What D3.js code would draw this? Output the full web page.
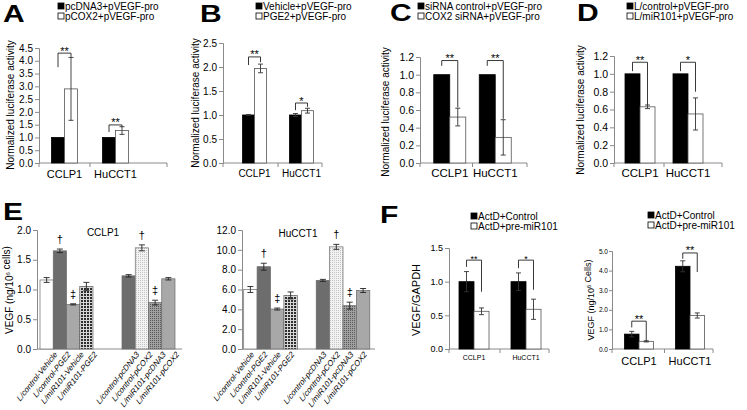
<!DOCTYPE html>
<html>
<head>
<meta charset="utf-8">
<script src="https://cdn.jsdelivr.net/npm/d3@7"></script>
<style>
  body { margin: 0; background: #fff; }
  svg { display: block; font-family: "Liberation Sans", Arial, sans-serif; }
</style>
</head>
<body>
<div id="container"></div>
<script>
// ---- data ----
let groups = ["CCLP1", "HuCCT1"];

let aLegend = ["pcDNA3+pVEGF-pro", "pCOX2+pVEGF-pro"];
let aValues = [[1.0, 2.9], [1.0, 1.27]];
let aErrors = [[0, 1.23], [0, 0.15]];
let aSig = [["**", 3.75, 4.3, 4.15], ["**", 1.21, 1.49, 1.41]];

let bLegend = ["Vehicle+pVEGF-pro", "PGE2+pVEGF-pro"];
let bValues = [[1.0, 1.97], [1.0, 1.09]];
let bErrors = [[0.01, 0.09], [0.03, 0.05]];
let bSig = [["**", 2.04, 2.21, 2.1], ["*", 1.1, 1.25, 1.17]];

let cLegend = ["siRNA control+pVEGF-pro", "COX2 siRNA+pVEGF-pro"];
let cValues = [[1.0, 0.52], [1.0, 0.29]];
let cErrors = [[0, 0.10], [0, 0.20]];
let cSig = [["**", 1.1, 1.16, 0.63], ["**", 1.1, 1.16, 0.5]];

let dLegend = ["L/control+pVEGF-pro", "L/miR101+pVEGF-pro"];
let dValues = [[1.0, 0.63], [1.0, 0.55]];
let dErrors = [[0, 0.02], [0, 0.18]];
let dSig = [["**", 1.03, 1.13, 0.65], ["*", 1.03, 1.13, 0.8]];

let eLabels = ["L/control-Vehicle", "L/control-PGE2", "L/miR101-Vehicle", "L/miR101-PGE2",
               "L/control-pcDNA3", "L/control-pCOX2", "L/miR101-pcDNA3", "L/miR101-pCOX2"];
let eFills = ["white", "dark", "mid", "check", "dark", "dots", "hatch", "mid"];
let eCclp1Values = [1.16, 1.65, 0.75, 1.05, 1.23, 1.70, 0.78, 1.18];
let eCclp1Errors = [0.04, 0.03, 0.01, 0.07, 0.02, 0.05, 0.04, 0.02];
let eHucct1Values = [6.0, 8.3, 4.03, 5.4, 6.92, 10.3, 4.37, 5.9];
let eHucct1Errors = [0.3, 0.35, 0.1, 0.35, 0.1, 0.25, 0.35, 0.2];
let eMarks = ["", "†", "‡", "", "", "†", "‡", ""];

let fLegend = ["ActD+Control", "ActD+pre-miR101"];
let fRatioValues = [[1.0, 0.56], [1.0, 0.59]];
let fRatioErrors = [[0.15, 0.05], [0.13, 0.15]];
let fRatioSig = [["**", 1.22, 1.32, 0.85], ["*", 1.2, 1.32, 0.88]];
let fConcValues = [[0.76, 0.39], [4.22, 1.71]];
let fConcErrors = [[0.14, 0.03], [0.28, 0.13]];
let fConcSig = [["**", 1.1, 1.42, 0.42], ["**", 4.6, 4.9, 3.93]];

// ---- drawing ----
let w = 747;
let h = 410;
let axisGray = "#8a8a8a";
let viz = d3.select("#container")
  .append("svg")
    .attr("width", w)
    .attr("height", h);

let defs = viz.append("defs");
let pCheck = defs.append("pattern").attr("id", "check").attr("patternUnits", "userSpaceOnUse")
  .attr("width", 3).attr("height", 3);
pCheck.append("rect").attr("width", 3).attr("height", 3).attr("fill", "#d8d8d8");
pCheck.append("rect").attr("width", 2).attr("height", 2).attr("fill", "#2e2e2e");
let pDots = defs.append("pattern").attr("id", "dots").attr("patternUnits", "userSpaceOnUse")
  .attr("width", 2).attr("height", 2);
pDots.append("rect").attr("width", 2).attr("height", 2).attr("fill", "#f2f2f2");
pDots.append("rect").attr("width", 1).attr("height", 1).attr("fill", "#c4c4c4");
let pHatch = defs.append("pattern").attr("id", "hatch").attr("patternUnits", "userSpaceOnUse")
  .attr("width", 2).attr("height", 2);
pHatch.append("rect").attr("width", 2).attr("height", 2).attr("fill", "#a0a0a0");
pHatch.append("rect").attr("width", 1).attr("height", 1).attr("fill", "#5a5a5a");

let fillColor = {
  white: "#ffffff", dark: "#6d6d6d", mid: "#a8a8a8",
  check: "url(#check)", dots: "url(#dots)", hatch: "url(#hatch)"
};

function styleAxis(sel, fontSize) {
  sel.select(".domain").attr("stroke", axisGray);
  sel.selectAll(".tick line").attr("stroke", axisGray);
  sel.selectAll(".tick text").attr("fill", "#000").style("font-size", fontSize + "px")
    .style("font-family", "'Liberation Sans', Arial, sans-serif");
}

function yTitle(x, y, size, parts) {
  let t = viz.append("text")
    .attr("transform", "translate(" + x + "," + y + ") rotate(-90)")
    .attr("text-anchor", "middle")
    .style("font-size", size + "px");
  parts.forEach(function(p) {
    if (p.sup) {
      t.append("tspan").attr("dy", -size * 0.3).style("font-size", (size * 0.6) + "px").text(p.text);
      t.append("tspan").attr("dy", size * 0.3).text("");
    } else {
      t.append("tspan").text(p.text);
    }
  });
}

function panelLetter(letter, x, y) {
  viz.append("text").attr("transform", "translate(" + x + "," + y + ") scale(1.25,1)").text(letter)
    .style("font-size", "24px").style("font-weight", "bold");
}

function legend(x, y, labels, size) {
  labels.forEach(function(l, i) {
    viz.append("rect").attr("x", x).attr("y", y + i * 10).attr("width", 6).attr("height", 6)
      .attr("fill", i == 0 ? "#000" : "#fff").attr("stroke", "#000").attr("stroke-width", 0.8);
    viz.append("text").attr("x", x + 7).attr("y", y + 6.5 + i * 10).text(l)
      .style("font-size", size + "px");
  });
}

function drawPairs(o) {
  let g = viz.append("g");
  let y = d3.scaleLinear().domain([0, o.yMax]).range([o.yBottom, o.yTop]);
  let x = d3.scaleBand().domain(groups).range(o.band);
  let sub = d3.scaleBand().domain([0, 1]).range([-o.barW, o.barW]);

  let yAxis = d3.axisLeft(y)
    .tickValues(d3.range(0, o.yMax + 1e-9, o.yStep))
    .tickFormat(d3.format(".1f"))
    .tickSize(o.tickLen || 4).tickPadding(o.tickPad == null ? 2 : o.tickPad);
  let ya = g.append("g").attr("transform", "translate(" + o.axisX + ",0)").call(yAxis);
  styleAxis(ya, o.tickFont);

  g.append("line").attr("x1", o.axisX).attr("x2", o.axisEnd)
    .attr("y1", o.yBottom).attr("y2", o.yBottom).attr("stroke", axisGray);
  let mids = [o.axisX, (x("CCLP1") + x("HuCCT1") + x.bandwidth()) / 2, o.axisEnd];
  g.selectAll(".xt").data(mids).enter().append("line")
    .attr("x1", d => d).attr("x2", d => d)
    .attr("y1", o.yBottom).attr("y2", o.yBottom + 4).attr("stroke", axisGray);

  g.selectAll(".cat").data(groups).enter().append("text")
    .attr("x", d => x(d) + x.bandwidth() / 2)
    .attr("y", o.catY)
    .attr("text-anchor", "middle")
    .style("font-size", o.catFont + "px")
    .text(d => d);

  let bars = [];
  groups.forEach(function(gr, gi) {
    [0, 1].forEach(function(si) {
      bars.push({ g: gr, s: si, v: o.values[gi][si], e: o.errors[gi][si] });
    });
  });
  let cx = d => x(d.g) + x.bandwidth() / 2 + sub(d.s) + o.barW / 2;

  g.selectAll(".bar").data(bars).enter().append("rect")
    .attr("x", d => x(d.g) + x.bandwidth() / 2 + sub(d.s))
    .attr("y", d => y(d.v))
    .attr("width", o.barW)
    .attr("height", d => o.yBottom - y(d.v))
    .attr("fill", d => d.s == 0 ? "#000" : "#fff")
    .attr("stroke", d => d.s == 0 ? "#000" : "#555")
    .attr("stroke-width", 0.8);

  let eb = bars.filter(d => d.e > 0);
  g.selectAll(".err").data(eb).enter().append("path")
    .attr("d", function(d) {
      let c = cx(d), t = y(d.v + d.e), b = y(d.v - d.e);
      return "M" + c + "," + t + "V" + b + "M" + (c - 2.5) + "," + t + "H" + (c + 2.5) +
             "M" + (c - 2.5) + "," + b + "H" + (c + 2.5);
    })
    .attr("fill", "none").attr("stroke", "#333").attr("stroke-width", 0.9);

  o.sig.forEach(function(s, gi) {
    let l = x(groups[gi]) + x.bandwidth() / 2 + sub(0) + o.barW / 2;
    let r = x(groups[gi]) + x.bandwidth() / 2 + sub(1) + o.barW / 2;
    g.append("path")
      .attr("d", "M" + l + "," + y(s[1]) + "V" + y(s[2]) + "H" + r + "V" + y(s[3]))
      .attr("fill", "none").attr("stroke", "#222").attr("stroke-width", 0.9);
    g.append("text").attr("x", (l + r) / 2).attr("y", y(s[2]) + 1.5)
      .attr("text-anchor", "middle").style("font-size", o.sigFont + "px").text(s[0]);
  });
}

function drawE(o) {
  let g = viz.append("g");
  let y = d3.scaleLinear().domain([0, o.yMax]).range([o.yBottom, o.yTop]);
  let sets = d3.scaleBand().domain([0, 1]).range(o.band);
  let inner = d3.scaleBand().domain([0, 1, 2, 3]).range([-2 * o.barW, 2 * o.barW]);
  let bx = i => sets(Math.floor(i / 4)) + sets.bandwidth() / 2 + inner(i % 4);

  let yAxis = d3.axisLeft(y)
    .tickValues(d3.range(0, o.yMax + 1e-9, o.yStep))
    .tickFormat(d3.format(".1f"))
    .tickSize(4).tickPadding(2);
  let ya = g.append("g").attr("transform", "translate(" + o.axisX + ",0)").call(yAxis);
  styleAxis(ya, 10);

  g.append("line").attr("x1", o.axisX).attr("x2", o.axisEnd)
    .attr("y1", o.yBottom).attr("y2", o.yBottom).attr("stroke", axisGray);

  g.append("text").attr("x", o.titleX).attr("y", o.titleY).attr("text-anchor", "middle")
    .style("font-size", "10px").text(o.title);

  let bars = o.values.map((v, i) => ({ i: i, v: v, e: o.errors[i] }));
  g.selectAll(".bar").data(bars).enter().append("rect")
    .attr("x", d => bx(d.i))
    .attr("y", d => y(d.v))
    .attr("width", o.barW)
    .attr("height", d => o.yBottom - y(d.v))
    .attr("fill", d => fillColor[eFills[d.i]])
    .attr("stroke", "#6a6a6a").attr("stroke-width", 0.7);

  g.selectAll(".err").data(bars).enter().append("path")
    .attr("d", function(d) {
      let c = bx(d.i) + o.barW / 2, t = y(d.v + d.e), b = y(d.v - d.e);
      return "M" + c + "," + t + "V" + b + "M" + (c - 3) + "," + t + "H" + (c + 3) +
             "M" + (c - 3) + "," + b + "H" + (c + 3);
    })
    .attr("fill", "none").attr("stroke", "#222").attr("stroke-width", 0.9);

  g.selectAll(".mark").data(bars.filter(d => eMarks[d.i] != "")).enter().append("text")
    .attr("x", d => bx(d.i) + o.barW / 2)
    .attr("y", d => y(d.v + d.e) - 6)
    .attr("text-anchor", "middle")
    .attr("fill", "#000")
    .style("font-size", "11px")
    .text(d => eMarks[d.i]);

  // slanted labels: rotated text squeezed sideways, as in the figure
  g.selectAll(".lab").data(eLabels).enter().append("text")
    .attr("transform", (d, i) => "translate(" + (bx(i) + o.barW / 2 + o.labelDx) + "," + (o.yBottom + 6) + ") scale(0.8,1) rotate(-45)")
    .attr("text-anchor", "end")
    .style("font-size", "9px")
    .text(d => d);
}

// ---- panels ----
panelLetter("A", 3, 22);
legend(58, 3, aLegend, 10);
yTitle(14, 105, 10, [{ text: "Normalized  luciferase  activity" }]);
drawPairs({ values: aValues, errors: aErrors, sig: aSig, yMax: 4.5, yStep: 0.5,
  yBottom: 163, yTop: 48, axisX: 39, axisEnd: 167, band: [39, 141], barW: 13,
  tickFont: 10, catFont: 11, catY: 178, sigFont: 11 });

panelLetter("B", 200, 22);
legend(256, 3, bLegend, 10);
yTitle(199, 103, 10, [{ text: "Normalized  luciferase  activity" }]);
drawPairs({ values: bValues, errors: bErrors, sig: bSig, yMax: 2.5, yStep: 0.5,
  yBottom: 163, yTop: 43, axisX: 223, axisEnd: 322, band: [231, 325], barW: 12,
  tickFont: 10, catFont: 10, catY: 177, sigFont: 11 });

panelLetter("C", 390, 21);
legend(418, 3, cLegend, 10);
yTitle(389, 112, 10, [{ text: "Normalized  luciferase  activity" }]);
drawPairs({ values: cValues, errors: cErrors, sig: cSig, yMax: 1.2, yStep: 0.2,
  yBottom: 163, yTop: 57, axisX: 420, axisEnd: 527, band: [427, 518], barW: 16,
  tickFont: 10.5, catFont: 11.5, catY: 177, sigFont: 11 });

panelLetter("D", 577, 21);
legend(627, 3, dLegend, 10);
yTitle(584, 110, 10, [{ text: "Normalized  luciferase  activity" }]);
drawPairs({ values: dValues, errors: dErrors, sig: dSig, yMax: 1.2, yStep: 0.2,
  yBottom: 163, yTop: 56, axisX: 614, axisEnd: 722, band: [616, 712], barW: 15,
  tickFont: 10.5, catFont: 11.5, catY: 177, sigFont: 11 });

panelLetter("E", 3, 220);
yTitle(13, 290, 10, [{ text: "VEGF (ng/10" }, { text: "6", sup: true }, { text: " cells)" }]);
drawE({ values: eCclp1Values, errors: eCclp1Errors, title: "CCLP1", titleX: 103, titleY: 236,
  yMax: 2.0, yStep: 0.5, yBottom: 349, yTop: 230, axisX: 37, axisEnd: 182,
  band: [25.5, 189.5], barW: 13.25, labelDx: 11 });
drawE({ values: eHucct1Values, errors: eHucct1Errors, title: "HuCCT1", titleX: 298, titleY: 237,
  yMax: 12, yStep: 2, yBottom: 349, yTop: 230, axisX: 242, axisEnd: 375,
  band: [234.25, 379.25], barW: 13.4, labelDx: 4 });

panelLetter("F", 380, 223);
legend(471, 213, fLegend, 10);
yTitle(420, 300, 11, [{ text: "VEGF/GAPDH" }]);
drawPairs({ values: fRatioValues, errors: fRatioErrors, sig: fRatioSig, yMax: 1.5, yStep: 0.5,
  yBottom: 349, yTop: 248, axisX: 449, axisEnd: 549, band: [448, 552], barW: 15,
  tickFont: 9, catFont: 7, catY: 360, sigFont: 9 });

legend(648, 212, fLegend, 10);
yTitle(594, 300, 9, [{ text: "VEGF (ng/10" }, { text: "6", sup: true }, { text: " Cells)" }]);
drawPairs({ values: fConcValues, errors: fConcErrors, sig: fConcSig, yMax: 5, yStep: 1,
  yBottom: 349, yTop: 251, axisX: 612, axisEnd: 713, band: [613.5, 715.5], barW: 14.5,
  tickFont: 6.5, tickLen: 3, tickPad: 1, catFont: 11, catY: 365, sigFont: 11 });
</script>
</body>
</html>
